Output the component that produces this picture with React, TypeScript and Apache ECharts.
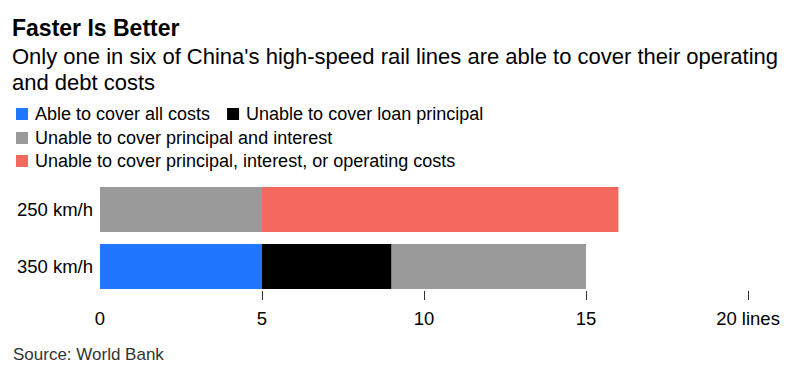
import React, { useEffect, useRef } from "react";
import * as echarts from "echarts";

const categories = ["250 km/h", "350 km/h"];
const seriesNames = [
  "Able to cover all costs",
  "Unable to cover loan principal",
  "Unable to cover principal and interest",
  "Unable to cover principal, interest, or operating costs",
];
const ableAll = [0, 5];
const unableLoan = [0, 4];
const unablePrincipalInterest = [5, 6];
const unableAll = [11, 0];
const xTicks = [0, 5, 10, 15, 20];
const colors = ["#2176ff", "#000000", "#9a9a9a", "#f3685f"];

const FONT = "'Liberation Sans', Arial, sans-serif";

export default function App() {
  const ref = useRef<HTMLDivElement>(null);
  useEffect(() => {
    if (!ref.current) return;
    const chart = echarts.init(ref.current, null, { renderer: "svg" });
    const values = [ableAll, unableLoan, unablePrincipalInterest, unableAll];
    chart.setOption({
      animation: false,
      backgroundColor: "#ffffff",
      textStyle: { fontFamily: FONT },
      title: [
        {
          text: "Faster Is Better",
          left: 12,
          top: 16,
          padding: 0,
          textStyle: { fontFamily: FONT, fontSize: 23, fontWeight: "bold", color: "#000", lineHeight: 24 },
        },
        {
          text: "Only one in six of China's high-speed rail lines are able to cover their operating\nand debt costs",
          left: 12,
          top: 43,
          padding: 0,
          textStyle: { fontFamily: FONT, fontSize: 22, fontWeight: "normal", color: "#000", lineHeight: 26 },
        },
        {
          text: "Source: World Bank",
          left: 13,
          top: 345,
          padding: 0,
          textStyle: { fontFamily: FONT, fontSize: 17, fontWeight: "normal", color: "#333", lineHeight: 18 },
        },
      ],
      legend: [
        {
          data: [seriesNames[0], seriesNames[1]],
          left: 16,
          top: 105,
          padding: 0,
          itemWidth: 12,
          itemHeight: 12,
          itemGap: 17,
          icon: "rect",
          selectedMode: false,
          textStyle: { fontFamily: FONT, fontSize: 18, color: "#000", lineHeight: 18, padding: [0, 0, 0, 2] },
        },
        {
          data: [seriesNames[2]],
          left: 16,
          top: 129,
          padding: 0,
          itemWidth: 12,
          itemHeight: 12,
          icon: "rect",
          selectedMode: false,
          textStyle: { fontFamily: FONT, fontSize: 18, color: "#000", lineHeight: 18, padding: [0, 0, 0, 2] },
        },
        {
          data: [seriesNames[3]],
          left: 16,
          top: 152,
          padding: 0,
          itemWidth: 12,
          itemHeight: 12,
          icon: "rect",
          selectedMode: false,
          textStyle: { fontFamily: FONT, fontSize: 18, color: "#000", lineHeight: 18, padding: [0, 0, 0, 2] },
        },
      ],
      grid: { left: 100, right: 53, top: 181, height: 114, containLabel: false },
      xAxis: {
        type: "value",
        min: 0,
        max: 20,
        interval: 5,
        offset: -4,
        axisLine: { show: false },
        splitLine: { show: false },
        axisTick: {
          show: true,
          length: 9,
          customValues: [5, 10, 15, 20],
          lineStyle: { color: "#333", width: 1 },
        },
        axisLabel: {
          margin: 18,
          fontFamily: FONT,
          fontSize: 18.5,
          color: "#000",
          customValues: xTicks,
          formatter: (v: number) => (v === 20 ? "20 lines" : String(v)),
        },
      },
      yAxis: {
        type: "category",
        inverse: true,
        data: categories,
        axisLine: { show: false },
        axisTick: { show: false },
        axisLabel: { margin: 7, fontFamily: FONT, fontSize: 18.5, color: "#000" },
      },
      series: seriesNames.map((name, i) => ({
        name,
        type: "bar",
        stack: "total",
        barWidth: 45,
        itemStyle: { color: colors[i] },
        data: values[i],
      })),
    });
    return () => chart.dispose();
  }, []);
  return (
    <div
      ref={ref}
      style={{ position: "fixed", left: 0, top: 0, width: 801, height: 374 }}
    />
  );
}
